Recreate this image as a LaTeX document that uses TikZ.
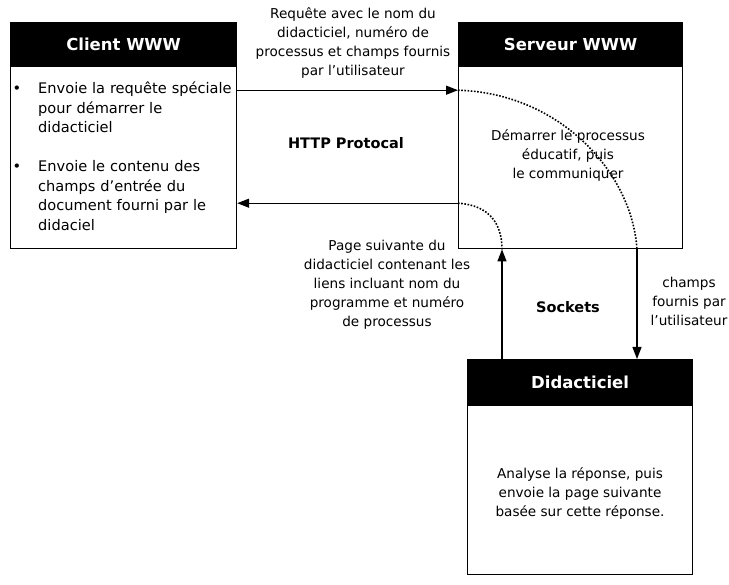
\documentclass[tikz,border=0pt]{standalone}
\usepackage{fontspec}
\setmainfont{DejaVu Sans}
\usetikzlibrary{positioning,arrows.meta}

\begin{document}
\begin{tikzpicture}[x=1pt, y=-1pt,
      font=\fontsize{13.6}{19}\selectfont,
      entete/.style={draw=black, fill=black, text=white, line width=1.2pt, anchor=north west,
                     font=\fontsize{16.5}{20}\selectfont\bfseries, minimum height=43pt, inner sep=0pt},
      corps/.style={draw=black, line width=1.2pt, inner sep=0pt},
      texte/.style={align=center, inner sep=0pt},
      gras/.style={font=\fontsize{14.5}{18}\selectfont\bfseries, inner sep=0pt},
      fleche/.style={-{Triangle[length=12pt,width=9pt]}, line width=1.3pt},
      pointille/.style={line width=1.6pt, dash pattern=on 1.6pt off 1.6pt},
      node distance=0pt]
    \useasboundingbox (0,0) rectangle (729,585);
    % les trois boites
    \node[entete, minimum width=226pt] (clienth) at (10,22) {Client WWW};
    \node[corps, minimum width=226pt, minimum height=182pt, below=0pt of clienth] (client) {};
    \node[entete, minimum width=224pt] (serveurh) at (458,22) {Serveur WWW};
    \node[corps, minimum width=224pt, minimum height=182pt, below=0pt of serveurh] (serveur) {};
    \node[entete, minimum width=225pt, minimum height=45pt] (didh) at (467,359) {Didacticiel};
    \node[corps, minimum width=225pt, minimum height=169pt, below=0pt of didh] (did) {};
    % contenus
    \node[anchor=north west, align=left, inner sep=0pt, text width=200pt,
          font=\fontsize{14.6}{19.5}\selectfont] (puces) at (38,82)
      {\noindent\llap{\textbullet\hspace{17pt}}Envoie la requête spéciale\\ pour démarrer le\\ didacticiel\\[19.5pt]
       \noindent\llap{\textbullet\hspace{17pt}}Envoie le contenu des\\ champs d'entrée du\\ document fourni par le\\ didaciel};
    \node[texte] (servtexte) at (568,155) {Démarrer le processus\\ éducatif, puis\\ le communiquer};
    \node[texte] (didtexte) at (580,493) {Analyse la réponse, puis\\ envoie la page suivante\\ basée sur cette réponse.};
    % liaisons
    \coordinate (reqfin) at ([yshift=-24pt]serveur.north west);
    \coordinate (repdebut) at ([yshift=-137pt]serveur.north west);
    \coordinate (haut) at ([xshift=35pt]didh.north west);
    \coordinate (bas) at ([xshift=170pt]didh.north west);
    \draw[fleche] ([yshift=-24pt]client.north east) -- (reqfin);
    \draw[fleche] (repdebut) -- (repdebut -| client.east);
    \draw[fleche] (haut) -- (haut |- serveur.south);
    \draw[fleche] (bas |- serveur.south) -- (bas);
    \draw[pointille] (reqfin) .. controls +(102,3) and +(-5,-77) .. (bas |- serveur.south);
    \draw[pointille] (repdebut) .. controls +(32,2) and +(0,-25) .. (haut |- serveur.south);
    % legendes
    \node[texte] (requete) at (353,43) {Requête avec le nom du\\ didacticiel, numéro de\\ processus et champs fournis\\ par l'utilisateur};
    \node[gras] (http) at (346,143) {HTTP Protocal};
    \node[texte] (pagesuiv) at (387,285) {Page suivante du\\ didacticiel contenant les\\ liens incluant nom du\\ programme et numéro\\ de processus};
    \node[gras] (sockets) at (568,307) {Sockets};
    \node[texte] (champs) at (689,301) {champs\\ fournis par\\ l'utilisateur};
\end{tikzpicture}
\end{document}
